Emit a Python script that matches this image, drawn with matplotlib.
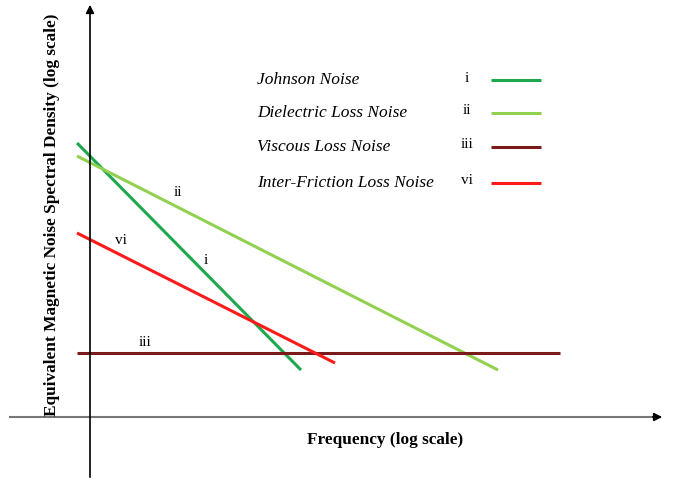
import matplotlib
matplotlib.use("Agg")
import matplotlib.pyplot as plt

# Schematic coordinates (pixel-like units of the drawing canvas)
names = ["Johnson Noise", "Dielectric Loss Noise", "Viscous Loss Noise", "Inter-Friction Loss Noise"]
numerals = ["i", "ii", "iii", "vi"]
colors = ["#1ea84e", "#92d050", "#7a1a1a", "#ff1a1a"]
line_x = [[77, 301], [77, 498], [77, 560], [77, 335]]
line_y = [[143, 370], [156, 370], [353, 353], [233, 363]]
label_pos = [(206, 260), (178, 192), (145, 342), (121, 241)]
legend_y = [80, 113, 147, 183]

W, H = 678, 480
fig = plt.figure(figsize=(W / 100, H / 100), dpi=100)
ax = fig.add_axes([0, 0, 1, 1])
ax.set_xlim(0, W)
ax.set_ylim(H, 0)
ax.axis("off")

serif = ["Liberation Serif", "DejaVu Serif"]

# axes with arrows
ax.plot([10, 656], [417, 417], color="#777777", lw=1.5)
ax.annotate("", xy=(665, 417), xytext=(650, 417),
            arrowprops=dict(arrowstyle="-|>", color="black", lw=1.2, mutation_scale=12))
ax.annotate("", xy=(90, 2), xytext=(90, 480),
            arrowprops=dict(arrowstyle="-|>", color="black", lw=1.2, mutation_scale=12))

for xs, ys, c in zip(line_x, line_y, colors):
    ax.plot(xs, ys, color=c, lw=2.2, solid_capstyle="butt")

for (lx, ly), n in zip(label_pos, numerals):
    ax.text(lx, ly, n, family=serif, fontsize=11, ha="center", va="center")

for y, name, n, c in zip(legend_y, names, numerals, colors):
    ax.text(257, y, name, family=serif, style="italic", fontsize=12.5, ha="left", va="center")
    ax.text(467, y - 2, n, family=serif, fontsize=11, ha="center", va="center")
    ax.plot([491, 541], [y, y], color=c, lw=2.2, solid_capstyle="butt")

ax.text(52, 215, "Equivalent Magnetic Noise Spectral Density (log scale)", family=serif,
        fontweight="bold", fontsize=12.4, rotation=90, ha="center", va="center")
ax.text(385, 440, "Frequency (log scale)", family=serif, fontweight="bold",
        fontsize=12.4, ha="center", va="center")

fig.savefig("out.png", dpi=100)
